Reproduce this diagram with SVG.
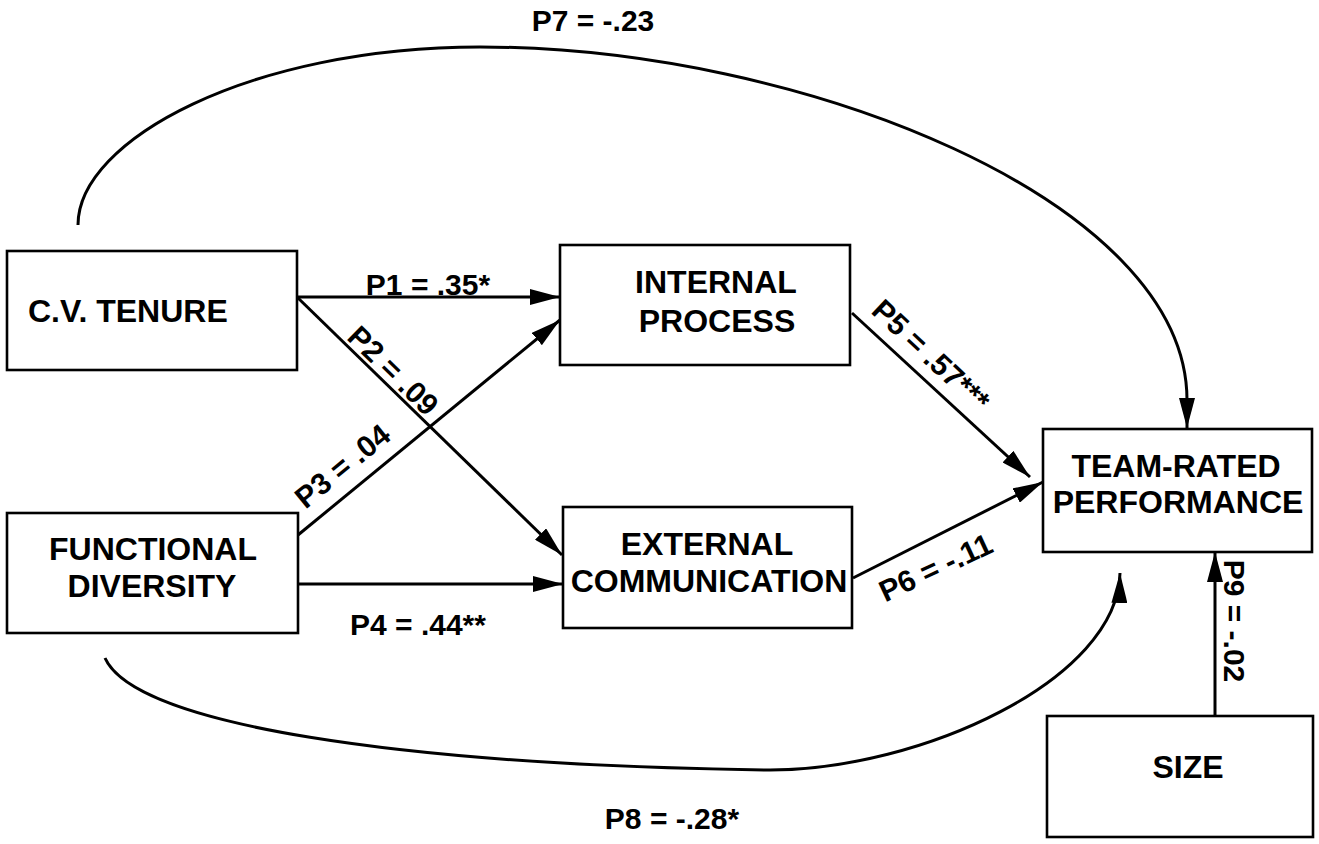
<svg xmlns="http://www.w3.org/2000/svg" width="1319" height="844" viewBox="0 0 1319 844">
<style>
.box{fill:#fff;stroke:#000;stroke-width:2.6}
.nt{font-family:"Liberation Sans",Arial,sans-serif;font-weight:bold;font-size:32px;fill:#000}
.lb{font-family:"Liberation Sans",Arial,sans-serif;font-weight:bold;font-size:30px;fill:#000}
.cn{fill:none;stroke:#000;stroke-width:3}
</style>
<defs>
<marker id="ah" viewBox="0 0 30 16" refX="30" refY="8" markerWidth="30" markerHeight="16" markerUnits="userSpaceOnUse" orient="auto">
<path d="M0,0 L30,8 L0,16 z" fill="#000"/>
</marker>
</defs>
<rect width="1319" height="844" fill="#fff"/>
<g id="connectors">
<path class="cn" d="M297,297 L560,297" marker-end="url(#ah)"/>
<path class="cn" d="M297,297 L562,555" marker-end="url(#ah)"/>
<path class="cn" d="M298,535 L560,320" marker-end="url(#ah)"/>
<path class="cn" d="M297,584 L563,584" marker-end="url(#ah)"/>
<path class="cn" d="M852,313 L1030,477" marker-end="url(#ah)"/>
<path class="cn" d="M853,578 L1043,482" marker-end="url(#ah)"/>
<path class="cn" d="M1215,715 L1215,552" marker-end="url(#ah)"/>
<path class="cn" d="M78,225 C78,140 250,47 480,47 C800,47 1187,200 1187,400 L1187,428" marker-end="url(#ah)"/>
<path class="cn" d="M105,658 C135,725 400,765 770,770 C920,770 1118,680 1120,573" marker-end="url(#ah)"/>
<text class="lb" x="428" y="295" text-anchor="middle">P1 = .35*</text>
<text class="lb" text-anchor="middle" transform="translate(386,378) rotate(44.4)">P2 = .09</text>
<text class="lb" text-anchor="middle" transform="translate(349,474) rotate(-39.3)">P3 = .04</text>
<text class="lb" x="418" y="635" text-anchor="middle">P4 = .44**</text>
<text class="lb" text-anchor="middle" transform="translate(924,363) rotate(43.1)">P5 = .57***</text>
<text class="lb" text-anchor="middle" transform="translate(940,577) rotate(-25)">P6 = -.11</text>
<text class="lb" x="593" y="31" text-anchor="middle">P7 = -.23</text>
<text class="lb" x="672" y="829" text-anchor="middle">P8 = -.28*</text>
<text class="lb" text-anchor="middle" transform="translate(1224,621) rotate(90)">P9 = -.02</text>
</g>
<g id="cv-tenure">
<rect class="box" x="7" y="251" width="290" height="119"/>
<text class="nt" x="28" y="322">C.V. TENURE</text>
</g>
<g id="functional-diversity">
<rect class="box" x="7" y="513" width="291" height="120"/>
<text class="nt" x="153" y="560" text-anchor="middle">FUNCTIONAL</text>
<text class="nt" x="152" y="597" text-anchor="middle">DIVERSITY</text>
</g>
<g id="internal-process">
<rect class="box" x="560" y="245" width="290" height="120"/>
<text class="nt" x="716" y="293" text-anchor="middle">INTERNAL</text>
<text class="nt" x="717" y="332" text-anchor="middle">PROCESS</text>
</g>
<g id="external-communication">
<rect class="box" x="563" y="507" width="289" height="121"/>
<text class="nt" x="707" y="555" text-anchor="middle">EXTERNAL</text>
<text class="nt" x="709" y="592" text-anchor="middle">COMMUNICATION</text>
</g>
<g id="team-rated-performance">
<rect class="box" x="1043" y="429" width="269" height="123"/>
<text class="nt" x="1176" y="477" text-anchor="middle">TEAM-RATED</text>
<text class="nt" x="1178" y="513" text-anchor="middle">PERFORMANCE</text>
</g>
<g id="size">
<rect class="box" x="1047" y="716" width="266" height="121"/>
<text class="nt" x="1188" y="778" text-anchor="middle">SIZE</text>
</g>
</svg>
